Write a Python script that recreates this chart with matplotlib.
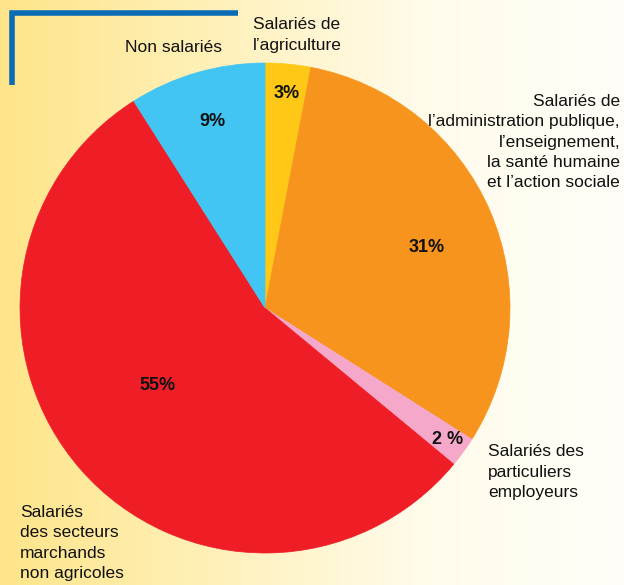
import numpy as np
import matplotlib
matplotlib.use("Agg")
import matplotlib.pyplot as plt
from matplotlib.colors import LinearSegmentedColormap

# -----------------------------
# Data
# -----------------------------
shares = [3, 31, 2, 55, 9]
pct_labels = ["3%", "31%", "2 %", "55%", "9%"]
names = [
    "Salariés de\nl’agriculture",
    "Salariés de\nl’administration publique,\nl’enseignement,\nla santé humaine\net l’action sociale",
    "Salariés des\nparticuliers\nemployeurs",
    "Salariés\ndes secteurs\nmarchands\nnon agricoles",
    "Non salariés",
]
colors = ["#FFC817", "#F7941E", "#F5A8C9", "#EE1D26", "#42C5F3"]

plt.rcParams["font.family"] = ["Liberation Sans", "DejaVu Sans"]

W, H = 624, 585
fig = plt.figure(figsize=(W / 100, H / 100), dpi=100)
ax = fig.add_axes([0, 0, 1, 1])

# background gradient, yellow on the left fading to cream on the right
bg = LinearSegmentedColormap.from_list("bg", ["#FEE58A", "#FFF0B8", "#FFFBEA", "#FFFEF8"])
grad = np.linspace(0, 1, 256).reshape(1, -1)
ax.imshow(grad, cmap=bg, extent=[0, W, 0, H], aspect="auto", zorder=0)

# blue corner mark
ax.plot([11.5, 11.5, 238], [H - 85, H - 12.5, H - 12.5], color="#0A6CB5", lw=4,
        solid_capstyle="butt", solid_joinstyle="miter", zorder=1)

cx, cy, r = 265, H - 308, 245
wedges, _ = ax.pie(shares, colors=colors, startangle=90, counterclock=False,
                   center=(cx, cy), radius=r, frame=True)
for w in wedges:
    w.set_edgecolor(w.get_facecolor())
    w.set_linewidth(0.5)
ax.set_xlim(0, W)
ax.set_ylim(0, H)
ax.set_aspect("equal")
ax.axis("off")

# percentage labels inside the slices
pct_pos = [(287, 93), (427, 248), (448, 439), (157, 385), (212, 122)]
for lab, (x, y) in zip(pct_labels, pct_pos):
    ax.text(x, H - y, lab, ha="center", va="center", fontsize=13,
            fontweight="bold", color="#111111", zorder=5)

# category names
name_pos = [(253, 35, "left"), (620, 142, "right"),
            (488, 472, "left"), (20, 543, "left"),
            (222, 48, "right")]
for lab, (x, y, ha) in zip(names, name_pos):
    ax.text(x, H - y, lab, ha=ha, va="center", fontsize=12.5, color="#111111",
            linespacing=1.42, multialignment=ha, zorder=5)

fig.savefig("out.png", dpi=100)
